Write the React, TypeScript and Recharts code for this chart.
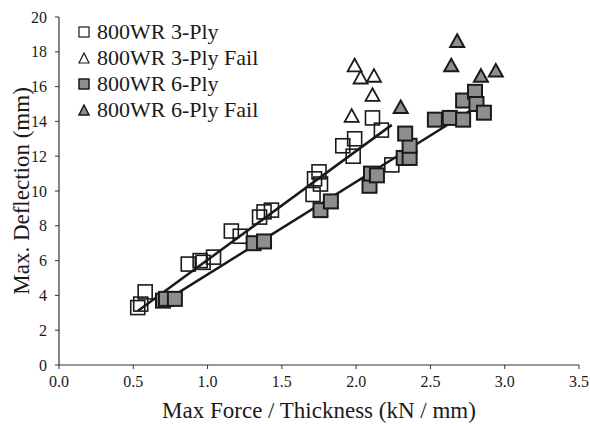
import React from 'react'
import {
  ScatterChart,
  Scatter,
  XAxis,
  YAxis,
} from 'recharts'

// 800WR 3-Ply (open squares)
const threePly = [
  { x: 0.53, y: 3.3 },
  { x: 0.55, y: 3.5 },
  { x: 0.58, y: 4.2 },
  { x: 0.87, y: 5.8 },
  { x: 0.95, y: 6.0 },
  { x: 0.97, y: 5.9 },
  { x: 1.04, y: 6.2 },
  { x: 1.16, y: 7.7 },
  { x: 1.22, y: 7.4 },
  { x: 1.35, y: 8.5 },
  { x: 1.38, y: 8.8 },
  { x: 1.43, y: 8.9 },
  { x: 1.71, y: 9.8 },
  { x: 1.72, y: 10.7 },
  { x: 1.75, y: 11.1 },
  { x: 1.76, y: 10.4 },
  { x: 1.91, y: 12.6 },
  { x: 1.98, y: 12.0 },
  { x: 1.99, y: 13.0 },
  { x: 2.11, y: 14.2 },
  { x: 2.17, y: 13.5 },
  { x: 2.24, y: 11.5 },
]

// 800WR 3-Ply Fail (open triangles)
const threePlyFail = [
  { x: 1.99, y: 17.2 },
  { x: 2.03, y: 16.5 },
  { x: 2.12, y: 16.6 },
  { x: 2.11, y: 15.5 },
  { x: 1.97, y: 14.3 },
]

// 800WR 6-Ply (filled squares)
const sixPly = [
  { x: 0.70, y: 3.7 },
  { x: 0.72, y: 3.8 },
  { x: 0.78, y: 3.8 },
  { x: 1.31, y: 7.0 },
  { x: 1.38, y: 7.1 },
  { x: 1.76, y: 8.9 },
  { x: 1.83, y: 9.4 },
  { x: 2.09, y: 10.3 },
  { x: 2.10, y: 11.0 },
  { x: 2.14, y: 10.9 },
  { x: 2.32, y: 11.9 },
  { x: 2.36, y: 11.9 },
  { x: 2.36, y: 12.6 },
  { x: 2.33, y: 13.3 },
  { x: 2.53, y: 14.1 },
  { x: 2.63, y: 14.2 },
  { x: 2.72, y: 14.1 },
  { x: 2.72, y: 15.2 },
  { x: 2.80, y: 15.7 },
  { x: 2.81, y: 15.0 },
  { x: 2.86, y: 14.5 },
]

// 800WR 6-Ply Fail (filled triangles)
const sixPlyFail = [
  { x: 2.30, y: 14.8 },
  { x: 2.68, y: 18.6 },
  { x: 2.64, y: 17.2 },
  { x: 2.84, y: 16.6 },
  { x: 2.94, y: 16.9 },
]

// fitted lines
const threePlyFit = [
  { x: 0.53, y: 3.1 },
  { x: 2.24, y: 13.8 },
]
const sixPlyFit = [
  { x: 0.68, y: 3.5 },
  { x: 2.84, y: 15.0 },
]

const xTicks = [0, 0.5, 1, 1.5, 2, 2.5, 3, 3.5]
const yTicks = [0, 2, 4, 6, 8, 10, 12, 14, 16, 18, 20]

const legendLabels = [
  '800WR 3-Ply',
  '800WR 3-Ply Fail',
  '800WR 6-Ply',
  '800WR 6-Ply Fail',
]

const FONT = '"Liberation Serif", "Times New Roman", serif'
const INK = '#1a1a1a'
const GRAY = '#8e8e8e'

const OpenSquare = (p: any) => (
  <rect x={p.cx - 7} y={p.cy - 7} width={14} height={14} fill="none" stroke={INK} strokeWidth={1.6} />
)
const FilledSquare = (p: any) => (
  <rect x={p.cx - 7} y={p.cy - 7} width={14} height={14} fill={GRAY} stroke={INK} strokeWidth={2} />
)
const triPath = (cx: number, cy: number, s: number) =>
  `M${cx},${cy - s} L${cx + s},${cy + s * 0.8} L${cx - s},${cy + s * 0.8} Z`
const OpenTriangle = (p: any) => (
  <path d={triPath(p.cx, p.cy, 7)} fill="none" stroke={INK} strokeWidth={1.8} />
)
const FilledTriangle = (p: any) => (
  <path d={triPath(p.cx, p.cy, 7)} fill={GRAY} stroke={INK} strokeWidth={2} />
)
const NoDot = () => <g />

const legendMarkers = [
  <rect key="a" x={1} y={1} width={10} height={10} fill="none" stroke={INK} strokeWidth={1.2} />,
  <path key="b" d="M6,1 L11,11 L1,11 Z" fill="none" stroke={INK} strokeWidth={1.2} />,
  <rect key="c" x={1} y={1} width={10} height={10} fill={GRAY} stroke={INK} strokeWidth={1.5} />,
  <path key="d" d="M6,1 L11,11 L1,11 Z" fill={GRAY} stroke={INK} strokeWidth={1.5} />,
]

// legend sits over the plot, top-left corner
const LegendBox = () => (
  <div style={{ position: 'absolute', left: 78, top: 19, fontFamily: FONT, fontSize: 22, color: INK }}>
    {legendLabels.map((label, i) => (
      <div key={label} style={{ display: 'flex', alignItems: 'center', height: 26 }}>
        <svg width={12} height={12} style={{ marginRight: 7 }}>
          {legendMarkers[i]}
        </svg>
        <span style={{ whiteSpace: 'nowrap' }}>{label}</span>
      </div>
    ))}
  </div>
)

export default function App() {
  return (
    <div style={{ position: 'absolute', left: 0, top: 0, width: 590, height: 426, background: '#fff' }}>
      <ScatterChart
        width={590}
        height={426}
        margin={{ top: 17, right: 11, left: 0, bottom: 0 }}
      >
        <XAxis
          type="number"
          dataKey="x"
          domain={[0, 3.5]}
          ticks={xTicks}
          tickFormatter={(v: number) => v.toFixed(1)}
          tick={{ fill: INK, fontSize: 16, fontFamily: FONT }}
          tickSize={4}
          tickMargin={7}
          axisLine={{ stroke: '#333', strokeWidth: 1.2 }}
          tickLine={{ stroke: '#333' }}
          height={61}
          label={{
            value: 'Max Force / Thickness (kN / mm)',
            position: 'center',
            dy: 14,
            style: { fill: INK, fontSize: 23, fontFamily: FONT },
          }}
        />
        <YAxis
          type="number"
          dataKey="y"
          domain={[0, 20]}
          ticks={yTicks}
          tick={{ fill: INK, fontSize: 16, fontFamily: FONT }}
          tickSize={4}
          tickMargin={8}
          axisLine={{ stroke: '#333', strokeWidth: 1.2 }}
          tickLine={{ stroke: '#333' }}
          width={59}
          label={{
            value: 'Max. Deflection (mm)',
            angle: -90,
            position: 'center',
            dx: -9,
            style: { fill: INK, fontSize: 23, fontFamily: FONT, textAnchor: 'middle' },
          }}
        />
        <Scatter data={threePlyFit} line={{ stroke: INK, strokeWidth: 2.5 }} shape={NoDot} legendType="none" isAnimationActive={false} />
        <Scatter data={sixPlyFit} line={{ stroke: INK, strokeWidth: 2.5 }} shape={NoDot} legendType="none" isAnimationActive={false} />
        <Scatter name="800WR 3-Ply" data={threePly} shape={OpenSquare} isAnimationActive={false} />
        <Scatter name="800WR 3-Ply Fail" data={threePlyFail} shape={OpenTriangle} isAnimationActive={false} />
        <Scatter name="800WR 6-Ply" data={sixPly} shape={FilledSquare} isAnimationActive={false} />
        <Scatter name="800WR 6-Ply Fail" data={sixPlyFail} shape={FilledTriangle} isAnimationActive={false} />
      </ScatterChart>
      <LegendBox />
    </div>
  )
}
